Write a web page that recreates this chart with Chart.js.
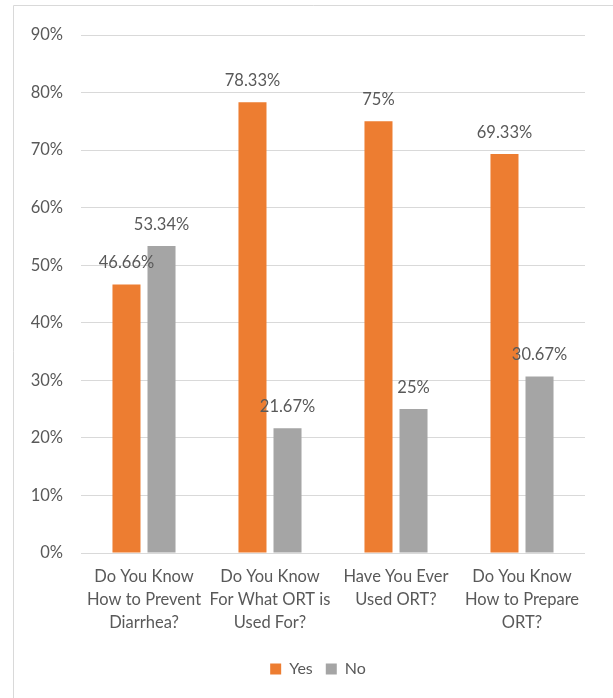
<!DOCTYPE html>
<html>
<head>
<meta charset="utf-8">
<script src="https://cdn.jsdelivr.net/npm/chart.js@4/dist/chart.umd.min.js"></script>
<style>
  html, body { margin: 0; padding: 0; background: #fff; }
  #wrap { position: relative; width: 613px; height: 698px; }
</style>
</head>
<body>
<div id="wrap"><canvas id="grafico"></canvas></div>
<script>
const categorias = [
  ['Do You Know', 'How to Prevent', 'Diarrhea?'],
  ['Do You Know', 'For What ORT is', 'Used For?'],
  ['Have You Ever', 'Used ORT?'],
  ['Do You Know', 'How to Prepare', 'ORT?']
];
const valoresSi = [46.66, 78.33, 75, 69.33];
const valoresNo = [53.34, 21.67, 25, 30.67];
const ticksY = [0, 10, 20, 30, 40, 50, 60, 70, 80, 90];

const FUENTE = 'Lato, "Open Sans", sans-serif';
const GRIS_TEXTO = '#595959';

// marco exterior como en Excel
const marco = {
  id: 'marco',
  beforeDraw(chart) {
    const c = chart.ctx;
    c.save();
    c.strokeStyle = '#d9d9d9';
    c.lineWidth = 1;
    c.beginPath();
    c.moveTo(13.5, 698);
    c.lineTo(13.5, 5.5);
    c.lineTo(613, 5.5);
    c.stroke();
    c.restore();
  },
  // el marco original sigue a la derecha fuera de la imagen: la leyenda se centra en el
  afterLayout(chart) {
    chart.legend.right = 623;
  }
};

// etiquetas de valor sobre cada barra
const etiquetas = {
  id: 'etiquetas',
  afterDatasetsDraw(chart) {
    const c = chart.ctx;
    c.save();
    c.font = '16.5px ' + FUENTE;
    c.fillStyle = GRIS_TEXTO;
    c.textAlign = 'center';
    c.textBaseline = 'middle';
    chart.data.datasets.forEach((ds, i) => {
      chart.getDatasetMeta(i).data.forEach((bar, j) => {
        c.fillText(ds.data[j] + '%', bar.x, bar.y - 21.5);
      });
    });
    c.restore();
  }
};

const ctx = document.getElementById('grafico').getContext('2d');
new Chart(ctx, {
  type: 'bar',
  data: {
    labels: categorias,
    datasets: [
      { label: 'Yes', data: valoresSi, backgroundColor: '#ED7D31' },
      { label: 'No', data: valoresNo, backgroundColor: '#A5A5A5' }
    ]
  },
  options: {
    responsive: true,
    maintainAspectRatio: false,
    animation: false,
    datasets: { bar: { categoryPercentage: 0.556, barPercentage: 0.8 } },
    layout: { padding: { left: 13, right: 28, top: 35, bottom: 11 } },
    plugins: {
      legend: {
        position: 'bottom',
        labels: {
          boxWidth: 11, boxHeight: 11, padding: 13,
          color: GRIS_TEXTO,
          font: { family: FUENTE, size: 16 }
        }
      },
      tooltip: { enabled: false }
    },
    scales: {
      x: {
        grid: { display: false },
        border: { display: false },
        ticks: {
          color: GRIS_TEXTO,
          font: { family: FUENTE, size: 16.5, lineHeight: 1.4 },
          padding: 4,
          maxRotation: 0,
          autoSkip: false
        },
        afterFit: s => { s.height = 95; }
      },
      y: {
        min: 0,
        max: 90,
        afterBuildTicks: s => { s.ticks = ticksY.map(v => ({ value: v })); },
        grid: { color: '#d9d9d9', lineWidth: 1, drawTicks: false },
        border: { display: false },
        ticks: {
          color: GRIS_TEXTO,
          font: { family: FUENTE, size: 16.5 },
          padding: 18,
          callback: v => v + '%'
        },
        afterFit: s => { s.width = 68; }
      }
    }
  },
  plugins: [marco, etiquetas]
});
</script>
</body>
</html>
